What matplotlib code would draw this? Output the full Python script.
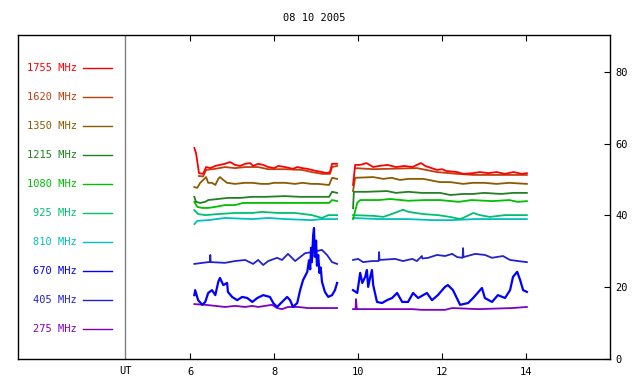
import numpy as np
import matplotlib
matplotlib.use('Agg')
import matplotlib.pyplot as plt
import matplotlib.transforms as mtransforms

NAN = np.nan

title = '08 10 2005'
freqs = ['1755', '1620', '1350', '1215', '1080', '925', '810', '670', '405', '275']
colors = ['#ff0000', '#c0400c', '#8c5a00', '#238023', '#00c000',
          '#00c070', '#00c0c0', '#0000ff', '#2222cc', '#8000c0']

x_ticks = [6, 8, 10, 12, 14]
y_ticks = [0, 20, 40, 60, 80]

# hours (UT) / values, NaN = data gap
t_1755 = [6.10, 6.14, 6.19, 6.21, 6.31, 6.38, 6.48, 6.60, 6.71, 6.83, 6.95, 7.07, 7.19, 7.31, 7.43,
          7.50, 7.62, 7.74, 7.86, 8.00, 8.10, 8.26, 8.45, 8.55, 8.67, 8.79, 8.90, 9.00, 9.14, 9.26,
          9.33, 9.38, 9.50, NAN,
          9.88, 9.93, 10.05, 10.20, 10.36, 10.50, 10.70, 10.90, 11.10, 11.30, 11.40, 11.50, 11.60,
          11.88, 12.00, 12.10, 12.36, 12.50, 12.74, 12.90, 13.10, 13.30, 13.50, 13.70, 13.90, 14.02]
v_1755 = [58.8, 57.4, 53.5, 51.8, 51.6, 53.5, 53.2, 53.8, 54.1, 54.4, 54.9, 54.1, 53.8, 54.4, 54.6,
          53.8, 54.4, 54.1, 53.5, 53.2, 53.8, 53.5, 53.0, 53.5, 53.2, 53.0, 52.7, 52.4, 52.1, 51.8,
          52.1, 54.4, 54.4, NAN,
          48.5, 54.1, 54.1, 54.6, 53.5, 53.8, 54.1, 53.5, 53.8, 53.5, 54.1, 54.6, 53.8,
          52.7, 52.9, 52.4, 52.1, 51.6, 51.8, 52.1, 51.8, 52.1, 51.6, 52.1, 51.6, 51.8]

t_1620 = [6.21, 6.31, 6.38, 6.60, 6.83, 7.07, 7.31, 7.62, 7.86, 8.26, 8.67, 8.90, 9.14, 9.33, 9.38, 9.50, NAN,
          9.93, 10.36, 11.40, 11.88, 12.36, 12.74, 14.02]
v_1620 = [51.0, 50.9, 52.7, 53.0, 53.5, 53.2, 53.5, 53.5, 52.9, 52.9, 52.7, 52.1, 51.6, 51.6, 53.5, 53.8, NAN,
          53.2, 52.9, 53.2, 52.1, 51.6, 51.3, 51.3]

t_1350 = [6.10, 6.17, 6.24, 6.31, 6.38, 6.43, 6.52, 6.60, 6.67, 6.71, 6.79, 6.88, 7.07, 7.30, 7.48,
          7.70, 7.86, 8.00, 8.26, 8.50, 8.67, 8.90, 9.05, 9.31, 9.38, 9.50, NAN,
          9.88, 9.93, 10.36, 10.60, 10.80, 11.00, 11.20, 11.55, 11.95, 12.20, 12.50, 12.74, 13.00,
          13.30, 13.60, 14.02]
v_1350 = [47.9, 47.7, 49.1, 49.9, 50.7, 49.1, 49.1, 48.5, 50.2, 50.7, 49.9, 49.1, 48.8, 49.1, 49.1,
          48.8, 48.8, 49.1, 49.1, 48.8, 49.1, 48.8, 48.8, 48.5, 50.5, 50.2, NAN,
          46.8, 50.5, 50.7, 50.2, 50.5, 49.9, 50.2, 50.2, 49.3, 49.3, 48.8, 49.1, 49.1,
          48.8, 49.1, 48.8]

t_1215 = [6.10, 6.14, 6.24, 6.36, 6.43, 6.67, 6.90, 7.20, 7.48, 7.80, 8.26, 8.60, 9.05, 9.31, 9.38, 9.50, NAN,
          9.88, 9.90, 10.20, 10.69, 10.90, 11.20, 11.50, 11.95, 12.20, 12.50, 12.74, 13.00, 13.40, 13.70, 14.02]
v_1215 = [45.2, 43.8, 43.5, 43.8, 44.3, 44.6, 44.9, 44.9, 45.2, 45.2, 45.4, 45.2, 45.2, 45.2, 46.6, 46.3, NAN,
          42.0, 46.6, 46.6, 46.8, 46.3, 46.6, 46.3, 46.3, 45.7, 46.0, 46.0, 46.3, 46.0, 46.3, 46.3]

t_1080 = [6.10, 6.17, 6.29, 6.43, 6.60, 6.83, 7.07, 7.26, 7.48, 7.86, 8.26, 8.67, 9.31, 9.38, 9.50, NAN,
          9.88, 9.98, 10.05, 10.50, 10.76, 11.20, 11.60, 11.95, 12.40, 12.70, 13.20, 13.60, 13.80, 14.02]
v_1080 = [43.8, 42.4, 42.1, 42.1, 42.4, 42.9, 42.9, 43.5, 43.5, 43.5, 43.5, 43.5, 43.5, 44.3, 44.0, NAN,
          39.0, 43.5, 44.3, 44.3, 44.6, 44.1, 44.3, 44.3, 43.8, 44.3, 44.0, 44.3, 43.8, 44.0]

t_925 = [6.10, 6.19, 6.36, 6.67, 7.07, 7.48, 7.71, 8.10, 8.50, 8.90, 9.14, 9.29, 9.50, NAN,
         9.88, 10.36, 10.60, 10.80, 11.07, 11.20, 11.55, 11.90, 12.19, 12.43, 12.50, 12.74, 12.90,
         13.14, 13.50, 14.02]
v_925 = [41.5, 40.4, 40.1, 40.4, 40.7, 40.7, 41.0, 40.7, 40.7, 40.1, 39.3, 40.1, 40.1, NAN,
         40.1, 39.9, 39.6, 40.4, 41.6, 41.0, 40.4, 40.1, 39.6, 39.0, 39.3, 40.7, 40.1,
         39.6, 40.1, 40.1]

t_810 = [6.10, 6.17, 6.43, 6.83, 7.48, 7.86, 8.26, 8.90, 9.14, 9.50, NAN,
         9.88, 10.50, 11.17, 11.80, 12.19, 12.80, 13.50, 14.02]
v_810 = [37.6, 38.5, 38.7, 39.3, 39.0, 39.3, 39.0, 38.7, 39.0, 39.0, NAN,
         39.3, 39.0, 39.0, 38.7, 38.7, 39.0, 39.0, 39.0]

t_670 = [6.10, 6.12, 6.19, 6.29, 6.36, 6.43, 6.52, 6.60, 6.67, 6.71, 6.79, 6.88, 6.90, 7.00, 7.12,
         7.24, 7.36, 7.48, 7.60, 7.74, 7.90, 7.98, 8.07, 8.19, 8.31, 8.38, 8.45, 8.55, 8.62, 8.69,
         8.79, 8.83, 8.86, 8.88, 8.90, 8.93, 8.95, 8.97, 9.00, 9.02, 9.05, 9.08, 9.11, 9.14, 9.21,
         9.29, 9.38, 9.45, 9.50, NAN,
         9.88, 9.98, 10.05, 10.10, 10.17, 10.21, 10.24, 10.29, 10.33, 10.36, 10.45, 10.57, 10.69,
         10.81, 10.93, 11.05, 11.19, 11.31, 11.43, 11.64, 11.76, 11.90, 12.07, 12.14, 12.26, 12.43,
         12.62, 12.74, 12.95, 13.02, 13.19, 13.33, 13.50, 13.62, 13.69, 13.79, 13.86, 13.93, 14.02]
v_670 = [17.8, 19.2, 16.4, 15.1, 15.9, 18.4, 19.2, 17.8, 21.5, 22.6, 20.6, 21.2, 18.7, 17.3, 16.4,
         17.3, 17.0, 15.9, 17.0, 17.8, 17.3, 15.6, 14.5, 15.9, 17.3, 16.4, 14.5, 15.6, 19.2, 22.0,
         24.3, 27.5, 25.0, 31.0, 27.0, 34.5, 36.5, 28.5, 33.0, 26.0, 29.0, 24.0, 25.5, 21.5, 18.7,
         17.3, 17.8, 19.2, 21.2, NAN,
         19.2, 18.4, 24.0, 21.2, 22.9, 24.8, 20.1, 22.9, 24.8, 20.6, 15.9, 15.6, 16.4,
         17.0, 18.4, 15.9, 15.9, 18.4, 17.0, 18.4, 16.4, 17.8, 20.1, 20.6, 19.2, 15.1,
         15.6, 17.0, 19.8, 17.0, 15.9, 17.8, 17.0, 19.2, 22.9, 24.3, 22.0, 19.2, 18.7]

t_405 = [6.10, 6.43, 6.47, 6.48, 6.49, 6.83, 7.07, 7.31, 7.50, 7.62, 7.74, 7.86, 8.07, 8.19, 8.33,
         8.50, 8.62, 8.74, 8.90, 9.14, 9.26, 9.38, 9.50, NAN,
         9.88, 10.00, 10.12, 10.33, 10.49, 10.50, 10.51, 10.88, 11.07, 11.29, 11.40, 11.52, 11.53,
         11.67, 11.88, 12.07, 12.24, 12.36, 12.49, 12.50, 12.51, 12.79, 13.02, 13.19, 13.45, 13.62,
         13.81, 14.02]
v_405 = [26.5, 27.0, 27.0, 29.0, 27.0, 26.8, 27.3, 27.6, 26.5, 27.6, 26.2, 27.3, 28.2, 27.6, 29.3,
         27.3, 28.4, 29.5, 29.8, 30.4, 29.0, 27.0, 26.5, NAN,
         27.6, 27.9, 27.0, 27.3, 27.3, 29.8, 27.6, 27.9, 27.3, 27.9, 27.3, 28.7, 28.0,
         28.2, 29.0, 28.7, 29.3, 28.4, 28.2, 30.9, 28.4, 29.3, 29.0, 28.2, 28.7, 27.6,
         27.3, 27.0]

t_275 = [6.10, 6.36, 6.60, 6.83, 7.07, 7.31, 7.48, 7.62, 7.95, 8.07, 8.19, 8.33, 8.57, 8.81, 9.05,
         9.29, 9.50, NAN,
         9.88, 9.94, 9.95, 9.97, 10.45, 11.29, 11.52, 12.07, 12.24, 12.86, 13.67, 14.02]
v_275 = [15.3, 15.1, 14.8, 14.5, 14.8, 14.5, 14.8, 14.5, 15.1, 14.2, 13.9, 14.5, 14.5, 14.2, 14.2,
         14.2, 14.2, NAN,
         13.9, 13.9, 16.7, 13.9, 13.9, 13.9, 13.7, 13.7, 14.2, 13.9, 14.2, 14.5]

series = [(t_1755, v_1755), (t_1620, v_1620), (t_1350, v_1350), (t_1215, v_1215),
          (t_1080, v_1080), (t_925, v_925), (t_810, v_810), (t_670, v_670),
          (t_405, v_405), (t_275, v_275)]

plt.rcParams['font.family'] = ['DejaVu Sans Mono']
fs = 7.5

fig = plt.figure(figsize=(6.4, 3.84), dpi=100)
ax = fig.add_axes([18 / 640, 25 / 384, 592 / 640, 324 / 384])
ax.set_xlim(1.9, 16.0)
ax.set_ylim(0, 90.3)

# draw lower-frequency curves first so 1755 stays on top
for (t, v), c, f in reversed(list(zip(series, colors, freqs))):
    ax.plot(t, v, color=c, lw=1.6 if f == '670' else 1.3)

# left legend panel
ax.axvline(4.45, color='#808080', lw=1)
for i, (f, c) in enumerate(zip(freqs, colors)):
    y = 0.898 - i * 0.0895
    ax.text(0.0997, y, f + ' MHz', color=c, fontsize=fs, ha='right', va='center',
            transform=ax.transAxes)
    ax.plot([0.110, 0.159], [y, y], color=c, lw=1, transform=ax.transAxes)

ax.set_xticks(x_ticks)
ax.set_xticklabels([str(x) for x in x_ticks], fontsize=fs)
ax.tick_params(axis='x', direction='in', length=4, top=True, bottom=True, pad=6)
ax.set_yticks(y_ticks)
ax.set_yticklabels([str(y) for y in y_ticks], fontsize=fs)
ax.yaxis.tick_right()
ax.tick_params(axis='y', direction='in', length=4, left=False, right=True, pad=4)

trans = mtransforms.blended_transform_factory(ax.transData, ax.transAxes)
ax.text(4.45, -0.022, 'UT', fontsize=fs, ha='center', va='top', transform=trans)

for s in ax.spines.values():
    s.set_linewidth(1)
ax.set_title(title, fontsize=fs, pad=10)

fig.savefig('out.png', dpi=100)
